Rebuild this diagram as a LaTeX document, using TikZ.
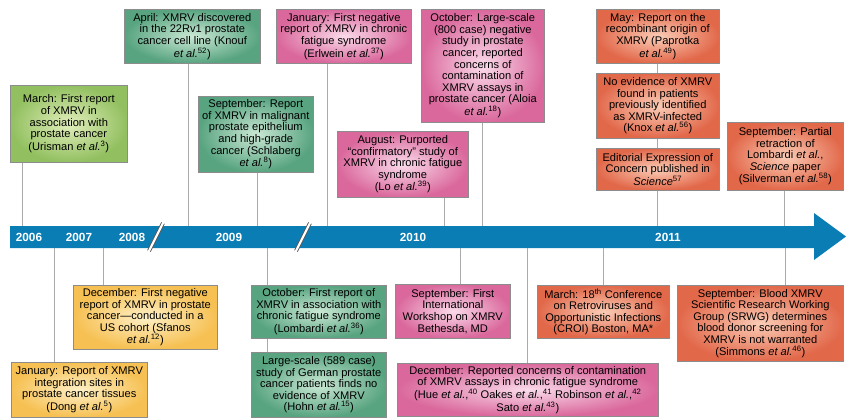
\documentclass[tikz,border=0pt]{standalone}
\usepackage{fontspec}
\setmainfont{Liberation Sans}
\definecolor{barblue}{RGB}{10,125,180}
\definecolor{tickgray}{RGB}{170,170,170}
\definecolor{boxline}{RGB}{140,140,140}
\definecolor{lgreenout}{RGB}{146,192,96}
\definecolor{lgreenin}{RGB}{226,238,188}
\definecolor{tealout}{RGB}{88,164,128}
\definecolor{tealin}{RGB}{202,232,212}
\definecolor{pinkout}{RGB}{218,104,156}
\definecolor{pinkin}{RGB}{250,218,234}
\definecolor{orangeout}{RGB}{226,104,74}
\definecolor{orangein}{RGB}{250,204,182}
\definecolor{yellowout}{RGB}{246,192,82}
\definecolor{yellowin}{RGB}{254,240,198}
\begin{document}
\begin{tikzpicture}[x=1pt, y=-1pt,
    evt/.style={draw=boxline, line width=0.6pt, align=center, inner sep=2pt, anchor=north west,
        font=\fontsize{11.1}{11.6}\selectfont},
    lgreen/.style={inner color=lgreenin, outer color=lgreenout},
    teal/.style={inner color=tealin, outer color=tealout},
    pinkbox/.style={inner color=pinkin, outer color=pinkout},
    orangebox/.style={inner color=orangein, outer color=orangeout},
    yellowbox/.style={inner color=yellowin, outer color=yellowout},
    tick/.style={draw=tickgray, line width=0.8pt},
    year/.style={text=white, font=\fontsize{11.8}{12}\selectfont\bfseries}]
    \useasboundingbox (0,0) rectangle (846,418);

    % time axis
    \fill[barblue] (10,226) -- (814,226) -- (814,213) -- (846,236.5) -- (814,260) -- (814,248) -- (10,248) -- cycle;
    \coordinate (bartop) at (0,226);
    \coordinate (barbot) at (0,248);
    \foreach \x/\yr in {29/2006, 79/2007, 132/2008, 229/2009, 413/2010, 668/2011}
        \node[year] (y\yr) at (\x,237.5) {\yr};

    % breaks in the axis
    \foreach \x in {156,303} {
        \draw[line width=4pt, draw=gray!70!black] (\x+7,223) -- (\x-7,251);
        \draw[line width=2.2pt, white] (\x+7.3,222.4) -- (\x-7.3,251.6);
    }

    % events above the axis
    \node[evt, lgreen, minimum width=117, minimum height=77] (mar06) at (10,85)
        {March: First report\\of XMRV in\\association with\\prostate cancer\\(Urisman \textit{et al.}\textsuperscript{3})};
    \node[evt, teal, minimum width=136, minimum height=54] (apr08) at (124,9)
        {April: XMRV discovered\\in the 22Rv1 prostate\\cancer cell line (Knouf\\\textit{et al.}\textsuperscript{52})};
    \node[evt, teal, minimum width=115, minimum height=76] (sep09) at (198,96)
        {September: Report\\of XMRV in malignant\\prostate epithelium\\and high-grade\\cancer (Schlaberg\\\textit{et al.}\textsuperscript{8})};
    \node[evt, pinkbox, minimum width=135, minimum height=54] (jan10) at (276,9)
        {January: First negative\\report of XMRV in chronic\\fatigue syndrome\\(Erlwein \textit{et al.}\textsuperscript{37})};
    \node[evt, pinkbox, minimum width=131, minimum height=66] (aug10) at (337,131)
        {August: Purported\\``confirmatory'' study of\\XMRV in chronic fatigue\\syndrome\\(Lo \textit{et al.}\textsuperscript{39})};
    \node[evt, pinkbox, minimum width=123, minimum height=113] (oct10) at (421,9)
        {October: Large-scale\\(800 case) negative\\study in prostate\\cancer, reported\\concerns of\\contamination of\\XMRV assays in\\prostate cancer (Aloia\\\textit{et al.}\textsuperscript{18})};
    \node[evt, orangebox, minimum width=123, minimum height=54] (may11) at (596,9)
        {May: Report on the\\recombinant origin of\\XMRV (Paprotka\\\textit{et al.}\textsuperscript{49})};
    \node[evt, orangebox, minimum width=123, minimum height=65] (knox11) at (596,73)
        {No evidence of XMRV\\found in patients\\previously identified\\as XMRV-infected\\(Knox \textit{et al.}\textsuperscript{56})};
    \node[evt, orangebox, minimum width=123, minimum height=42] (edit11) at (596,148)
        {Editorial Expression of\\Concern published in\\\textit{Science}\textsuperscript{57}};
    \node[evt, orangebox, minimum width=116, minimum height=68] (sep11a) at (727,122)
        {September: Partial\\retraction of\\Lombardi \textit{et al.},\\\textit{Science} paper\\(Silverman \textit{et al.}\textsuperscript{58})};

    % events below the axis
    \node[evt, yellowbox, minimum width=144, minimum height=64] (dec07) at (73,285)
        {December: First negative\\report of XMRV in prostate\\cancer---conducted in a\\US cohort (Sfanos\\\textit{et al.}\textsuperscript{12})};
    \node[evt, yellowbox, minimum width=136, minimum height=55] (jan07) at (11,362)
        {January: Report of XMRV\\integration sites in\\prostate cancer tissues\\(Dong \textit{et al.}\textsuperscript{5})};
    \node[evt, teal, minimum width=135, minimum height=53] (oct09) at (251,285)
        {October: First report of\\XMRV in association with\\chronic fatigue syndrome\\(Lombardi \textit{et al.}\textsuperscript{36})};
    \node[evt, teal, minimum width=135, minimum height=65] (hohn09) at (251,352)
        {Large-scale (589 case)\\study of German prostate\\cancer patients finds no\\evidence of XMRV\\(Hohn \textit{et al.}\textsuperscript{15})};
    \node[evt, pinkbox, minimum width=115, minimum height=54] (sep10) at (395,284)
        {September: First\\International\\Workshop on XMRV\\Bethesda, MD};
    \node[evt, pinkbox, minimum width=261, minimum height=53] (dec10) at (397,363)
        {December: Reported concerns of contamination\\of XMRV assays in chronic fatigue syndrome\\(Hue \textit{et al.},\textsuperscript{40} Oakes \textit{et al.},\textsuperscript{41} Robinson \textit{et al.},\textsuperscript{42}\\Sato \textit{et al.}\textsuperscript{43})};
    \node[evt, orangebox, minimum width=132, minimum height=53] (mar11) at (537,285)
        {March: 18\textsuperscript{th} Conference\\on Retroviruses and\\Opportunistic Infections\\(CROI) Boston, MA*};
    \node[evt, orangebox, minimum width=166, minimum height=76] (sep11b) at (677,285)
        {September: Blood XMRV\\Scientific Research Working\\Group (SRWG) determines\\blood donor screening for\\XMRV is not warranted\\(Simmons \textit{et al.}\textsuperscript{46})};

    % connectors to the axis
    \foreach \n/\dx in {mar06/-46.5, apr08/-4, sep09/1.5, jan10/-16.5, aug10/41.5, oct10/0, edit11/0, sep11a/-1}
        \draw[tick] ([xshift=\dx]\n.south) -- ([xshift=\dx]\n.south |- bartop);
    \foreach \n/\dx in {dec07/-42, jan07/-25, oct09/-51.5, sep10/7.5, dec10/0, mar11/0, sep11b/25}
        \draw[tick] ([xshift=\dx]\n.north) -- ([xshift=\dx]\n.north |- barbot);
    \draw[tick] (may11.south) -- (knox11.north);
    \draw[tick] (knox11.south) -- (edit11.north);
    \draw[tick] ([xshift=-51.5]oct09.south) -- ([xshift=-51.5]hohn09.north);

\end{tikzpicture}
\end{document}
